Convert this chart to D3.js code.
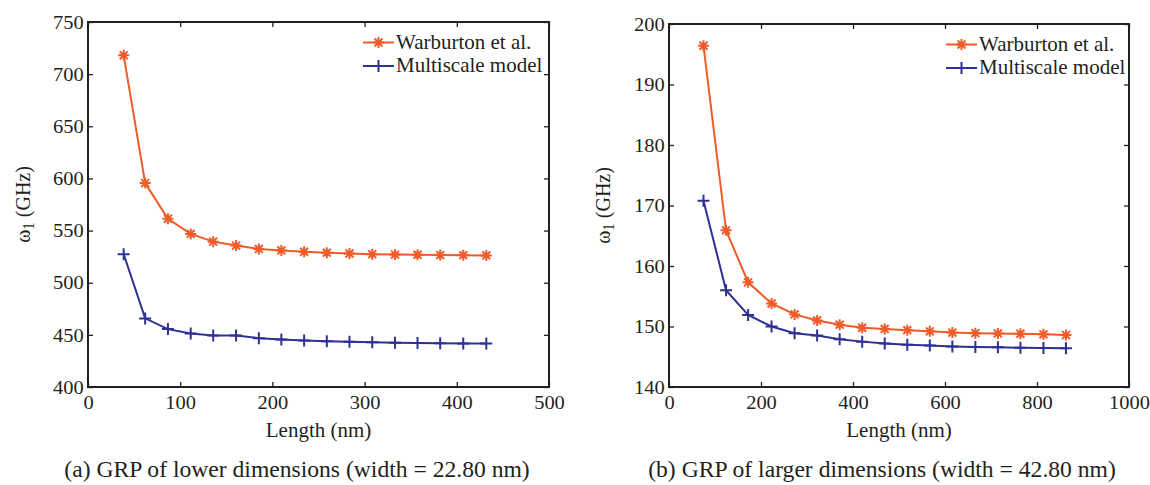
<!DOCTYPE html>
<html lang="en">
<head>
<meta charset="utf-8" />
<title>GRP natural frequency</title>
<script src="https://d3js.org/d3.v7.min.js"></script>
<style>
  body { margin: 0; background: #fff; }
  svg text { font-family: "Liberation Serif", "Times New Roman", serif; fill: #231f20; }
</style>
</head>
<body>
<script>
// ---- data ----
// (a) lower dimensions
const lenA = [38.7, 62, 86.7, 111.4, 135.8, 160.6, 185.3, 209.7, 234.4, 259, 283.6, 308.3, 333, 357.4, 382, 407, 432];
const warbA = [718, 595.5, 561.3, 546.8, 539.4, 535.6, 532.4, 531, 529.7, 528.8, 528, 527.4, 527, 526.8, 526.5, 526.4, 526.2];
const multiA = [527.3, 465.8, 455.5, 451.3, 449.4, 449.4, 446.8, 445.6, 444.6, 443.9, 443.3, 442.8, 442.5, 442.2, 442, 441.8, 441.6];
// (b) larger dimensions
const lenB = [75, 124, 172, 223, 273, 322, 371, 420, 469, 518, 567, 616, 666, 715, 764, 814, 863];
const warbB = [196.4, 165.9, 157.3, 153.8, 152.0, 151.0, 150.3, 149.8, 149.6, 149.4, 149.2, 149.0, 148.9, 148.85, 148.8, 148.7, 148.6];
const multiB = [170.8, 156.0, 151.9, 150.0, 148.9, 148.5, 147.9, 147.5, 147.2, 147.0, 146.85, 146.7, 146.6, 146.55, 146.5, 146.45, 146.4];

const xTicksA = [0, 100, 200, 300, 400, 500];
const yTicksA = [400, 450, 500, 550, 600, 650, 700, 750];
const xTicksB = [0, 200, 400, 600, 800, 1000];
const yTicksB = [140, 150, 160, 170, 180, 190, 200];

const seriesNames = ["Warburton et al.", "Multiscale model"];
const captions = ["(a) GRP of lower dimensions (width = 22.80 nm)", "(b) GRP of larger dimensions (width = 42.80 nm)"];

const ORANGE = "#f15a29";
const BLUE = "#2e3192";
const INK = "#231f20";
const FS = 20;       // label font size
const TFS = 19.5;    // tick font size
const SX = 1.05;     // figure is stretched a bit horizontally

const svg = d3.select("body").append("svg")
  .attr("width", 1150).attr("height", 485)
  .attr("font-family", "Liberation Serif, serif");

// helper: text stretched horizontally
function label(g, x, y, txt, anchor, size) {
  return g.append("text")
    .attr("transform", `translate(${x},${y}) scale(${SX},1)`)
    .attr("text-anchor", anchor || "start")
    .style("font-size", (size || FS) + "px")
    .text(txt);
}

function asterisk(r) {
  const d = r * 0.72;
  return `M${-r},0H${r}M0,${-r}V${r}M${-d},${-d}L${d},${d}M${-d},${d}L${d},${-d}`;
}
function plus(r) {
  return `M${-r},0H${r}M0,${-r}V${r}`;
}

function panel(opt) {
  const { left, right, top, bottom } = opt;
  const g = svg.append("g");
  const x = d3.scaleLinear().domain(opt.xDomain).range([left, right]);
  const y = d3.scaleLinear().domain(opt.yDomain).range([bottom, top]);

  // ticks, inward on all four sides
  const styleAxis = a => {
    a.attr("font-family", null).attr("font-size", null);
    a.select(".domain").remove();
    a.selectAll(".tick line").attr("stroke", INK).attr("stroke-width", 1.3);
    a.selectAll("text")
      .style("font-size", TFS + "px")
      .attr("fill", INK)
      .attr("transform", `scale(${SX},1)`);
  };
  g.append("g").attr("transform", `translate(0,${bottom})`)
    .call(d3.axisBottom(x).tickValues(opt.xTicks).tickSize(-5).tickPadding(8).tickFormat(d3.format("d")))
    .call(styleAxis);
  g.append("g").attr("transform", `translate(0,${top})`)
    .call(d3.axisTop(x).tickValues(opt.xTicks).tickSize(-5).tickFormat(""))
    .call(styleAxis);
  g.append("g").attr("transform", `translate(${left},0)`)
    .call(d3.axisLeft(y).tickValues(opt.yTicks).tickSize(-5).tickPadding(4).tickFormat(d3.format("d")))
    .call(styleAxis);
  g.append("g").attr("transform", `translate(${right},0)`)
    .call(d3.axisRight(y).tickValues(opt.yTicks).tickSize(-5).tickFormat(""))
    .call(styleAxis);

  // frame
  g.append("rect")
    .attr("x", left).attr("y", top)
    .attr("width", right - left).attr("height", bottom - top)
    .attr("fill", "none").attr("stroke", INK).attr("stroke-width", 2);

  const line = d3.line().x(d => x(d[0])).y(d => y(d[1]));
  const series = [
    { vals: opt.warb, color: ORANGE, mark: asterisk(5.5) },
    { vals: opt.multi, color: BLUE, mark: plus(6) }
  ];
  series.forEach(s => {
    const pts = opt.len.map((l, i) => [l, s.vals[i]]);
    g.append("path").datum(pts)
      .attr("d", line)
      .attr("fill", "none").attr("stroke", s.color).attr("stroke-width", 2);
    g.selectAll(null).data(pts).enter().append("path")
      .attr("transform", d => `translate(${x(d[0])},${y(d[1])})`)
      .attr("d", s.mark)
      .attr("fill", "none").attr("stroke", s.color).attr("stroke-width", 2);
  });

  // legend
  series.forEach((s, i) => {
    const ly = top + 20.5 + i * 23.5;
    const lx = opt.legendX;
    g.append("line")
      .attr("x1", lx).attr("x2", lx + 31).attr("y1", ly).attr("y2", ly)
      .attr("stroke", s.color).attr("stroke-width", 2);
    g.append("path")
      .attr("transform", `translate(${lx + 15.5},${ly})`)
      .attr("d", s.mark)
      .attr("fill", "none").attr("stroke", s.color).attr("stroke-width", 2);
    label(g, lx + 33, ly + 6, seriesNames[i], "start");
  });

  // axis titles
  const cx = (left + right) / 2;
  label(g, cx, 437, "Length (nm)", "middle");
  const yl = g.append("text")
    .attr("transform", `translate(${opt.yLabelX},${(top + bottom) / 2}) scale(${SX},1) rotate(-90)`)
    .attr("text-anchor", "middle")
    .style("font-size", FS + "px");
  yl.append("tspan").text("\u03c9");
  yl.append("tspan").attr("dy", 4).style("font-size", "15px").text("1");
  yl.append("tspan").attr("dy", -4).text(" (GHz)");

  // caption
  label(g, opt.captionX, 477, opt.caption, "middle", 22.5);
}

panel({
  left: 88, right: 549, top: 22, bottom: 387,
  xDomain: [0, 500], yDomain: [400, 750],
  xTicks: xTicksA, yTicks: yTicksA,
  len: lenA, warb: warbA, multi: multiA,
  legendX: 363, yLabelX: 30, captionX: 297, caption: captions[0]
});

panel({
  left: 669, right: 1129, top: 24, bottom: 387,
  xDomain: [0, 1000], yDomain: [140, 200],
  xTicks: xTicksB, yTicks: yTicksB,
  len: lenB, warb: warbB, multi: multiB,
  legendX: 946, yLabelX: 610, captionX: 882, caption: captions[1]
});
</script>
</body>
</html>
